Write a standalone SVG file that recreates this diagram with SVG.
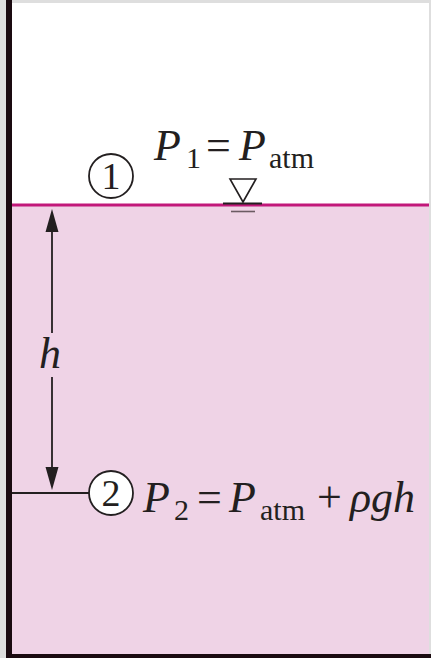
<svg xmlns="http://www.w3.org/2000/svg" width="431" height="658" viewBox="0 0 431 658">
<style>
.serif{font-family:"Liberation Serif","Times New Roman",serif;fill:#231f20}
.it{font-style:italic}
.num{font-size:38px}
.ln{stroke:#231f20;stroke-width:1.8;fill:none}
.circ{stroke:#231f20;stroke-width:1.8;fill:#ffffff}
.head{fill:#231f20}
</style>
<rect width="431" height="658" fill="#dedede"/>
<g id="tank">
<rect x="12" y="3" width="417" height="202" fill="#ffffff"/>
<rect x="12" y="205" width="417" height="449" fill="#efd3e6"/>
<line x1="12" y1="205" x2="429" y2="205" stroke="#c2187a" stroke-width="3"/>
<rect x="6" y="0" width="6" height="658" fill="#1a0a10"/>
<rect x="6" y="654" width="425" height="4" fill="#1a0a10"/>
</g>
<g id="surface-symbol">
<polygon points="230,179 256,179 243,202" fill="none" stroke="#231f20" stroke-width="1.6"/>
<line x1="223" y1="203.5" x2="262" y2="203.5" stroke="#231f20" stroke-width="2"/>
<line x1="231" y1="211.5" x2="255" y2="211.5" stroke="#6b5b63" stroke-width="1.6"/>
</g>
<g id="connectors">
<line class="ln" x1="52" y1="228" x2="52" y2="333"/>
<line class="ln" x1="52" y1="377" x2="52" y2="470"/>
<path class="head" d="M52 209 L58.5 232 L45.5 232 Z"/>
<path class="head" d="M52 490 L58.5 467 L45.5 467 Z"/>
<line class="ln" x1="12" y1="493" x2="89" y2="493"/>
</g>
<g id="label-h">
<text class="serif it" x="39" y="368" font-size="44">h</text>
</g>
<g id="point1">
<circle class="circ" cx="111" cy="176" r="22"/>
<text class="serif num" x="111" y="189" text-anchor="middle">1</text>
<text class="serif" y="160" font-size="44"><tspan class="it" x="154">P</tspan><tspan x="186" dy="8" font-size="30">1</tspan><tspan x="206" dy="-8">=</tspan><tspan class="it" x="239">P</tspan><tspan x="269" dy="8" font-size="30">atm</tspan></text>
</g>
<g id="point2">
<circle class="circ" cx="111" cy="493" r="22"/>
<text class="serif num" x="111" y="506" text-anchor="middle">2</text>
<text class="serif" y="512" font-size="44"><tspan class="it" x="143">P</tspan><tspan x="174" dy="8" font-size="30">2</tspan><tspan x="197" dy="-8">=</tspan><tspan class="it" x="229">P</tspan><tspan x="260" dy="8" font-size="30">atm</tspan><tspan x="317" dy="-8">+</tspan><tspan class="it" x="350">ρgh</tspan></text>
</g>
</svg>
